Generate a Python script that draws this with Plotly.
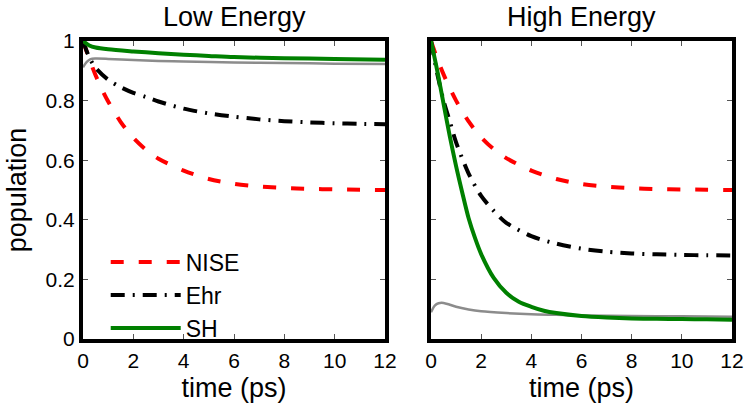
import plotly.graph_objects as go

# ---------------- data ----------------
# Low Energy panel
t_low_nise = [0, 0.25, 0.5, 0.75, 1, 1.5, 2, 2.5, 3, 4, 5, 6, 7, 8, 9, 10, 11, 12]
low_nise = [1.0, 0.94, 0.885, 0.838, 0.797, 0.728, 0.675, 0.635, 0.605, 0.565, 0.537, 0.521, 0.512, 0.507, 0.504, 0.502, 0.501, 0.500]

t_low_ehr = [0, 0.25, 0.5, 1, 1.5, 2, 2.5, 3, 4, 5, 6, 7, 8, 9, 10, 11, 12]
low_ehr = [1.0, 0.945, 0.91, 0.87, 0.845, 0.826, 0.812, 0.797, 0.773, 0.757, 0.746, 0.737, 0.731, 0.727, 0.724, 0.722, 0.721]

t_low_sh = [0, 0.25, 0.5, 1, 2, 3, 4, 5, 6, 8, 10, 12]
low_sh = [1.0, 0.985, 0.978, 0.972, 0.965, 0.959, 0.954, 0.950, 0.946, 0.942, 0.940, 0.937]

t_low_gray = [0, 0.15, 0.3, 0.5, 1, 2, 3, 4, 6, 8, 10, 12]
low_gray = [0.912, 0.930, 0.939, 0.941, 0.940, 0.936, 0.933, 0.931, 0.928, 0.926, 0.924, 0.923]

# High Energy panel
t_high_nise = [0, 0.25, 0.5, 0.75, 1, 1.5, 2, 2.5, 3, 4, 5, 6, 7, 8, 9, 10, 11, 12]
high_nise = [1.0, 0.94, 0.888, 0.842, 0.80, 0.73, 0.677, 0.637, 0.607, 0.565, 0.537, 0.520, 0.511, 0.506, 0.503, 0.502, 0.501, 0.500]

t_high_ehr = [0, 0.25, 0.5, 0.75, 1, 1.5, 2, 2.5, 3, 4, 5, 6, 7, 8, 9, 10, 11, 12]
high_ehr = [1.0, 0.89, 0.80, 0.73, 0.66, 0.555, 0.48, 0.43, 0.39, 0.345, 0.32, 0.303, 0.293, 0.287, 0.284, 0.282, 0.281, 0.280]

t_high_sh = [0, 0.25, 0.5, 0.75, 1, 1.25, 1.5, 1.75, 2, 2.5, 3, 3.5, 4, 4.5, 5, 6, 7, 8, 9, 10, 11, 12]
high_sh = [1.0, 0.90, 0.79, 0.68, 0.58, 0.49, 0.405, 0.34, 0.285, 0.205, 0.155, 0.125, 0.108, 0.095, 0.087, 0.077, 0.072, 0.069, 0.068, 0.067, 0.066, 0.065]

t_high_gray = [0, 0.15, 0.3, 0.5, 0.75, 1, 1.5, 2, 3, 4, 5, 6, 8, 10, 12]
high_gray = [0.09, 0.112, 0.120, 0.121, 0.115, 0.108, 0.099, 0.093, 0.087, 0.083, 0.081, 0.079, 0.077, 0.076, 0.075]

x_ticks = [0, 2, 4, 6, 8, 10, 12]
y_ticks = [0, 0.2, 0.4, 0.6, 0.8, 1]
y_tick_text = ["0", "0.2", "0.4", "0.6", "0.8", "1"]
panel_titles = ["Low Energy", "High Energy"]
names = ["NISE", "Ehr", "SH"]

# ---------------- styles ----------------
RED = "#ff0000"
GREEN = "#008000"
GRAY = "#8c8c8c"
dash_nise = "13px,15px"
dash_ehr = "14px,8px,2px,8px"

fig = go.Figure()

panels = [
    ("x", "y", t_low_gray, low_gray, t_low_nise, low_nise, t_low_ehr, low_ehr, t_low_sh, low_sh, True),
    ("x2", "y2", t_high_gray, high_gray, t_high_nise, high_nise, t_high_ehr, high_ehr, t_high_sh, high_sh, False),
]
for xa, ya, tg, g, tn, n, te, e, ts, s, show in panels:
    fig.add_trace(go.Scatter(x=tg, y=g, xaxis=xa, yaxis=ya, mode="lines", showlegend=False,
                             line=dict(color=GRAY, width=2.5, shape="spline", smoothing=0.8)))
    fig.add_trace(go.Scatter(x=tn, y=n, xaxis=xa, yaxis=ya, mode="lines", name=names[0],
                             legendgroup="n", showlegend=show,
                             line=dict(color=RED, width=4, dash=dash_nise, shape="spline", smoothing=0.8)))
    fig.add_trace(go.Scatter(x=te, y=e, xaxis=xa, yaxis=ya, mode="lines", name=names[1],
                             legendgroup="e", showlegend=show,
                             line=dict(color="black", width=4, dash=dash_ehr, shape="spline", smoothing=0.8)))
    fig.add_trace(go.Scatter(x=ts, y=s, xaxis=xa, yaxis=ya, mode="lines", name=names[2],
                             legendgroup="s", showlegend=show,
                             line=dict(color=GREEN, width=4, shape="spline", smoothing=0.8)))

FONT = "Liberation Sans, Arial, sans-serif"
axis_common = dict(showline=True, linewidth=4, linecolor="black", mirror="ticks",
                   ticks="inside", ticklen=5, tickwidth=1, tickcolor="#555555",
                   showgrid=False, zeroline=False, automargin=False,
                   tickfont=dict(family=FONT, size=21, color="black"))

dom1 = [0, 302 / 649]
dom2 = [348 / 649, 1]

fig.update_layout(
    width=747, height=409,
    margin=dict(l=83, r=15, t=41, b=70),
    paper_bgcolor="white", plot_bgcolor="white",
    font=dict(family=FONT, color="black"),
    xaxis=dict(domain=dom1, range=[0, 12], tickvals=x_ticks, anchor="y",
               title=dict(text="time (ps)", font=dict(size=27), standoff=8), **axis_common),
    xaxis2=dict(domain=dom2, range=[0, 12], tickvals=x_ticks, anchor="y2",
                title=dict(text="time (ps)", font=dict(size=27), standoff=8), **axis_common),
    yaxis=dict(domain=[0, 1], range=[0, 1], tickvals=y_ticks, ticktext=y_tick_text, anchor="x",
               title=dict(text="population", font=dict(size=27), standoff=12), **axis_common),
    yaxis2=dict(domain=[0, 1], range=[0, 1], tickvals=y_ticks, showticklabels=False, anchor="x2",
                **axis_common),
    legend=dict(x=0.035, y=0.33, xanchor="left", yanchor="top", bgcolor="rgba(0,0,0,0)",
                font=dict(family=FONT, size=23), itemwidth=70, tracegroupgap=0),
    showlegend=True,
)

for i, title in enumerate(panel_titles):
    dom = dom1 if i == 0 else dom2
    fig.add_annotation(text=title, xref="paper", yref="paper", x=(dom[0] + dom[1]) / 2, y=1,
                       yshift=24, showarrow=False, xanchor="center", yanchor="middle",
                       font=dict(family=FONT, size=27, color="black"))

fig.write_html("out.html")
